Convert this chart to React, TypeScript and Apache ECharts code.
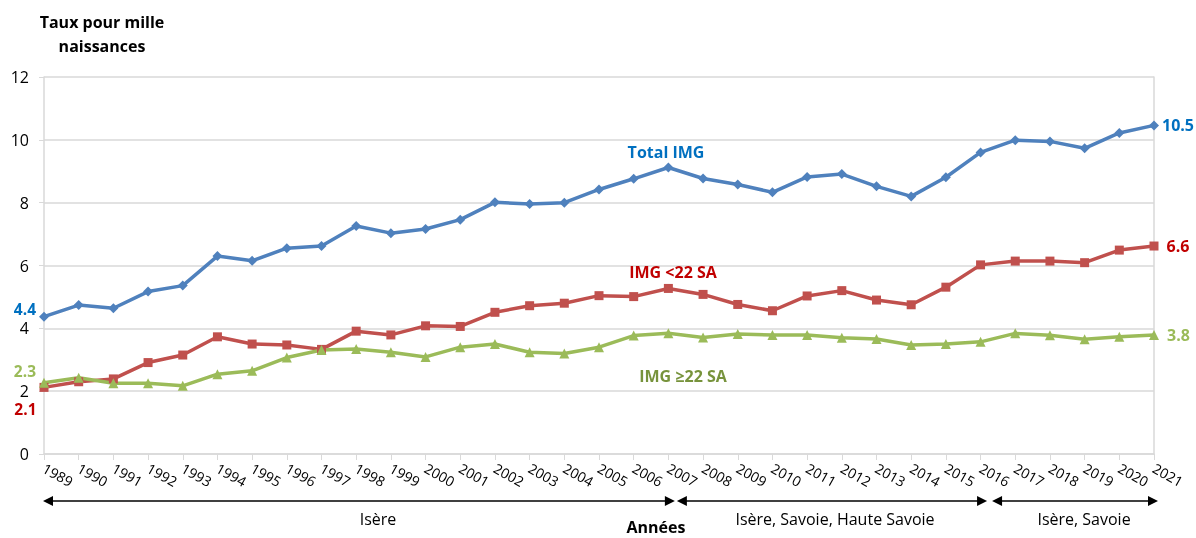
import React, { useEffect, useRef } from "react";
import * as echarts from "echarts";

const years = ["1989","1990","1991","1992","1993","1994","1995","1996","1997","1998","1999","2000","2001","2002","2003","2004","2005","2006","2007","2008","2009","2010","2011","2012","2013","2014","2015","2016","2017","2018","2019","2020","2021"];
const totalIMG = [4.37,4.74,4.64,5.17,5.36,6.30,6.15,6.55,6.62,7.26,7.03,7.16,7.46,8.01,7.96,8.00,8.42,8.76,9.12,8.77,8.58,8.33,8.82,8.91,8.52,8.20,8.81,9.60,9.99,9.95,9.73,10.22,10.46];
const imgLt22 = [2.12,2.30,2.39,2.91,3.15,3.73,3.50,3.47,3.33,3.91,3.79,4.08,4.06,4.51,4.72,4.80,5.04,5.01,5.27,5.08,4.76,4.56,5.03,5.20,4.90,4.75,5.31,6.02,6.14,6.14,6.09,6.49,6.62];
const imgGe22 = [2.27,2.43,2.25,2.25,2.17,2.54,2.65,3.07,3.31,3.34,3.24,3.09,3.40,3.50,3.24,3.20,3.40,3.77,3.84,3.71,3.82,3.79,3.79,3.70,3.66,3.47,3.50,3.57,3.84,3.78,3.65,3.73,3.79];
const seriesNames = ["Total IMG", "IMG <22 SA", "IMG ≥22 SA"];
const regions = [
  { label: "Isère", from: "1989", to: "2007" },
  { label: "Isère, Savoie, Haute Savoie", from: "2007", to: "2016" },
  { label: "Isère, Savoie", from: "2016", to: "2021" },
];
const yTitle = "Taux pour mille\nnaissances";
const xTitle = "Années";

const FONT = "'Open Sans', sans-serif";

function withEndLabels(values: number[], color: string, firstOffset: number[], lastDistance: number) {
  const last = values.length - 1;
  const fmt = (p: any) => Number(p.value).toFixed(1);
  return values.map((v, i) => {
    if (i === 0) {
      return {
        value: v,
        label: { show: true, position: "left", distance: 3, offset: firstOffset, color, fontWeight: "bold", fontSize: 15.5, lineHeight: 13, fontFamily: FONT, formatter: fmt },
      };
    }
    if (i === last) {
      return {
        value: v,
        label: { show: true, position: "right", distance: lastDistance, color, fontWeight: "bold", fontSize: 16, lineHeight: 14, fontFamily: FONT, formatter: fmt },
      };
    }
    return v;
  });
}

export default function App() {
  const ref = useRef<HTMLDivElement>(null);
  useEffect(() => {
    if (!ref.current) return;
    const chart = echarts.init(ref.current, null, { renderer: "svg" });
    const grid = { left: 44, right: 42, top: 77, bottom: 84 };
    chart.setOption({
      animation: false,
      textStyle: { fontFamily: FONT },
      grid,
      xAxis: {
        type: "category",
        data: years,
        boundaryGap: false,
        axisLine: { lineStyle: { color: "#D9D9D9", width: 1.5 } },
        axisTick: { show: true, length: 6, lineStyle: { color: "#D9D9D9" } },
        axisLabel: { rotate: -29, color: "#000", fontSize: 14, fontFamily: FONT, margin: 13, interval: 0 },
      },
      yAxis: [
        {
          type: "value",
          min: 0,
          max: 12,
          interval: 2,
          axisLine: { show: true, lineStyle: { color: "#D9D9D9", width: 1.5 } },
          axisTick: { show: true, length: 5, lineStyle: { color: "#D9D9D9" } },
          axisLabel: { color: "#000", fontSize: 16, lineHeight: 13, fontFamily: FONT, margin: 15 },
          splitLine: { lineStyle: { color: "#D9D9D9", width: 1.5 } },
        },
        {
          type: "value",
          min: 0,
          max: 12,
          interval: 2,
          position: "right",
          axisLine: { show: true, lineStyle: { color: "#D9D9D9", width: 1.5 } },
          axisTick: { show: false },
          axisLabel: { show: false },
          splitLine: { show: false },
        },
      ],
      series: [
        {
          name: seriesNames[0],
          type: "line",
          data: withEndLabels(totalIMG, "#0070C0", [0, -8], 3),
          symbol: "diamond",
          symbolSize: 10,
          lineStyle: { color: "#4F81BD", width: 3.5 },
          itemStyle: { color: "#4F81BD" },
        },
        {
          name: seriesNames[1],
          type: "line",
          data: withEndLabels(imgLt22, "#C00000", [0, 22], 8),
          symbol: "rect",
          symbolSize: 9,
          lineStyle: { color: "#C0504D", width: 3.5 },
          itemStyle: { color: "#C0504D" },
        },
        {
          name: seriesNames[2],
          type: "line",
          data: withEndLabels(imgGe22, "#9BBB59", [0, -12], 8),
          symbol: "triangle",
          symbolSize: 10,
          lineStyle: { color: "#9BBB59", width: 3.5 },
          itemStyle: { color: "#9BBB59" },
        },
      ],
    });

    const px = (y: string) => chart.convertToPixel({ xAxisIndex: 0 }, y) as number;
    const arrowY = 501;
    const tipOff = [[-1, 6.5], [8.5, 6.5], [11.5, 4]];
    const graphics: any[] = [];
    regions.forEach((r, i) => {
      const x1 = px(r.from) + tipOff[i][0];
      const x2 = px(r.to) + tipOff[i][1];
      graphics.push({ type: "line", shape: { x1: x1 + 8, y1: arrowY, x2: x2 - 8, y2: arrowY }, style: { stroke: "#000", lineWidth: 1.5 } });
      graphics.push({ type: "polygon", shape: { points: [[x1, arrowY], [x1 + 10, arrowY - 5], [x1 + 10, arrowY + 5]] }, style: { fill: "#000" } });
      graphics.push({ type: "polygon", shape: { points: [[x2, arrowY], [x2 - 10, arrowY - 5], [x2 - 10, arrowY + 5]] }, style: { fill: "#000" } });
    });
    const labelCenters = [378, 835, 1084];
    regions.forEach((r, i) => {
      graphics.push({ type: "text", x: labelCenters[i], y: 519, style: { text: r.label, font: `16px ${FONT}`, fill: "#000", align: "center", verticalAlign: "middle" } });
    });
    graphics.push({ type: "text", x: 656, y: 527, style: { text: xTitle, font: `bold 16px ${FONT}`, fill: "#000", align: "center", verticalAlign: "middle" } });
    graphics.push({ type: "text", x: 102, y: 34, style: { text: yTitle, font: `bold 16px ${FONT}`, fill: "#000", align: "center", verticalAlign: "middle", lineHeight: 24 } });
    graphics.push({ type: "text", x: 666, y: 152, style: { text: seriesNames[0], font: `bold 16px ${FONT}`, fill: "#0070C0", align: "center", verticalAlign: "middle" } });
    graphics.push({ type: "text", x: 673, y: 272, style: { text: seriesNames[1], font: `bold 16px ${FONT}`, fill: "#C00000", align: "center", verticalAlign: "middle" } });
    graphics.push({ type: "text", x: 683, y: 376, style: { text: seriesNames[2], font: `bold 16px ${FONT}`, fill: "#77933C", align: "center", verticalAlign: "middle" } });
    chart.setOption({ graphic: graphics });

    return () => chart.dispose();
  }, []);
  return <div ref={ref} style={{ position: "fixed", left: 0, top: 0, width: 1196, height: 538 }} />;
}
